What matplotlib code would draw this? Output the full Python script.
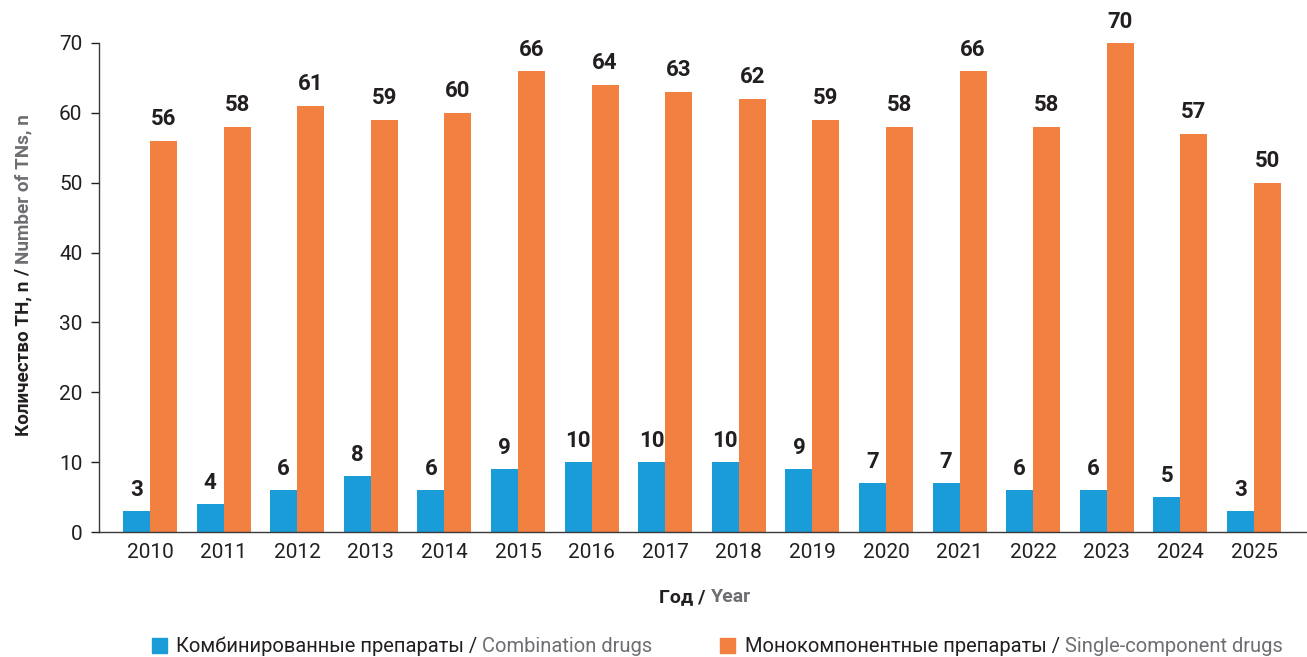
import matplotlib
matplotlib.use("Agg")
import matplotlib.pyplot as plt
from matplotlib.patches import Rectangle
import numpy as np

years = ["2010", "2011", "2012", "2013", "2014", "2015", "2016", "2017",
         "2018", "2019", "2020", "2021", "2022", "2023", "2024", "2025"]
combination = [3, 4, 6, 8, 6, 9, 10, 10, 10, 9, 7, 7, 6, 6, 5, 3]
single = [56, 58, 61, 59, 60, 66, 64, 63, 62, 59, 58, 66, 58, 70, 57, 50]
yticks = [0, 10, 20, 30, 40, 50, 60, 70]

BLUE = "#1a9cd8"
ORANGE = "#f28040"
DARK = "#231f20"
GRAY = "#6d6e71"

plt.rcParams['font.family'] = ['Roboto', 'DejaVu Sans']

W, H = 1307, 657
fig = plt.figure(figsize=(W / 100, H / 100), dpi=100)
ax = fig.add_axes([99 / W, 1 - 532 / H, 1 - 99 / W, (532 - 43) / H])

x = np.arange(len(years))
bw = 0.367
b1 = ax.bar(x - bw / 2, combination, bw, color=BLUE, zorder=2)
b2 = ax.bar(x + bw / 2, single, bw, color=ORANGE, zorder=2)

for rects, vals in ((b1, combination), (b2, single)):
    for r, v in zip(rects, vals):
        ax.annotate(str(v), (r.get_x() + r.get_width() / 2, v),
                    xytext=(0, 7.5), textcoords="offset points",
                    ha="center", va="bottom", fontsize=16, fontweight="bold",
                    color=DARK, annotation_clip=False)

ax.set_xlim(-0.693, 15.72)
ax.set_ylim(0, 70)
ax.set_yticks(yticks)
ax.set_xticks(x)
ax.set_xticklabels(years)
ax.tick_params(axis="y", length=6, width=1, color=DARK, labelsize=15, labelcolor=DARK, pad=6)
ax.tick_params(axis="x", length=0, labelsize=15, labelcolor=DARK, pad=8)
for s in ("top", "right"):
    ax.spines[s].set_visible(False)
for s in ("left", "bottom"):
    ax.spines[s].set_color("#3a3a3a")
    ax.spines[s].set_linewidth(1.0)

renderer = fig.canvas.get_renderer()


def chain_h(pieces, x0, y0, size, weight, center=False):
    """Draw horizontal colored pieces starting at pixel x0, baseline y0 (pixels from top)."""
    texts = []
    xs = x0
    for s, c in pieces:
        t = fig.text(xs / W, 1 - y0 / H, s, color=c, fontsize=size, fontweight=weight,
                     ha="left", va="baseline")
        w = t.get_window_extent(renderer).width
        texts.append(t)
        xs += w
    if center:
        total = xs - x0
        shift = total / 2
        for t in texts:
            px, py = t.get_position()
            t.set_position((px - shift / W, py))
    return xs


def chain_v(pieces, x0, y0, size, weight):
    """Rotated 90: start at pixel y0 (from top, bottom of label) going up, baseline at x0."""
    ys = y0
    for s, c in pieces:
        t = fig.text(x0 / W, 1 - ys / H, s, color=c, fontsize=size, fontweight=weight,
                     rotation=90, rotation_mode="anchor", ha="left", va="baseline")
        h = t.get_window_extent(renderer).height
        ys -= h


# y label
chain_v([("Количество ТН, n ", DARK), ("/ ", DARK), ("Number of TNs, n", GRAY)],
        28, 436, 13.6, "bold")

# x label
chain_h([("Год / ", DARK), ("Year", GRAY)], 705, 602, 14, "bold", center=True)

# legend
fig.add_artist(Rectangle((152 / W, 1 - 653 / H), 15 / W, 15 / H, transform=fig.transFigure,
                         color=BLUE))
chain_h([("Комбинированные препараты / ", DARK), ("Combination drugs", GRAY)],
        176, 652, 14.5, "normal")
fig.add_artist(Rectangle((720 / W, 1 - 653 / H), 15 / W, 15 / H, transform=fig.transFigure,
                         color=ORANGE))
chain_h([("Монокомпонентные препараты / ", DARK), ("Single-component drugs", GRAY)],
        745, 652, 14.5, "normal")

fig.savefig("out.png", dpi=100)
